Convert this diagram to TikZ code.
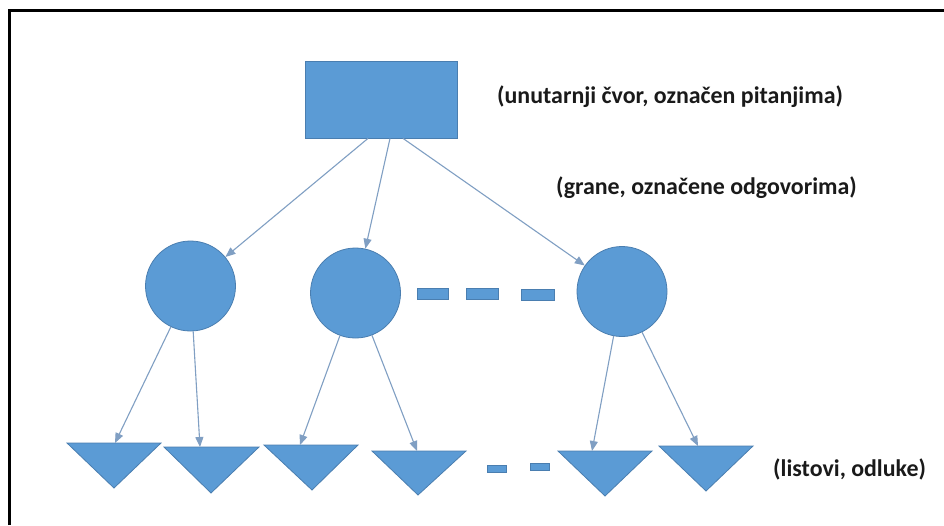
\documentclass[tikz,border=0pt]{standalone}
\usepackage{fontspec}
\setmainfont{Carlito}
\usetikzlibrary{arrows.meta,calc}
\definecolor{shapefill}{HTML}{5B9BD5}
\definecolor{shapeline}{HTML}{4A7EB0}
\definecolor{arrcol}{HTML}{809FC3}
\definecolor{txtcol}{HTML}{1A1A1A}
\tikzset{
  blob/.style={fill=shapefill, draw=shapeline, line width=0.8pt},
  ball/.style={blob, circle, minimum size=90pt, inner sep=0pt},
  box/.style={blob, rectangle, minimum width=152pt, minimum height=77pt, inner sep=0pt},
  arr/.style={draw=arrcol, line width=1.1pt, -{Triangle[length=10pt,width=8pt]}},
  lbl/.style={text=txtcol, font=\fontsize{23.9}{27}\selectfont\bfseries, inner sep=0pt, anchor=west},
  frame/.style={draw=black, line width=3pt}
}
\begin{document}
\begin{tikzpicture}[x=1pt,y=-1pt]
\useasboundingbox (0,0) rectangle (944,525);
\fill[white] (0,0) rectangle (944,525);
% frame (left and top only visible)
\draw[frame] (9.5,525) -- (9.5,10) -- (944,10);

% root
\node[box] (r) at (381,99.5) {};
% internal nodes
\node[ball] (c1) at (190.5,286) {};
\node[ball] (c2) at (355.5,293) {};
\node[ball] (c3) at (622,291.5) {};

% dashes between circles
\fill[blob] (417,288) rectangle (448,299);
\fill[blob] (466,288) rectangle (498,299);
\fill[blob] (521,289.5) rectangle (554,300.5);

% leaves (downward triangles)
\fill[blob] (67,443) -- (161,443) -- (114,488) -- cycle;
\fill[blob] (164,447) -- (259,447) -- (211,493) -- cycle;
\fill[blob] (264,445) -- (358,445) -- (312,490) -- cycle;
\fill[blob] (372,451) -- (466,451) -- (418,495) -- cycle;
\fill[blob] (558,451) -- (652,451) -- (605,496) -- cycle;
\fill[blob] (659,446) -- (753,446) -- (706,491) -- cycle;
% small dashes between leaves
\fill[blob] (487,465) rectangle (506,472);
\fill[blob] (530,463) rectangle (549,470);

% arrow tip coordinates on leaves
\coordinate (t1) at (115,443);
\coordinate (t2) at (200,447);
\coordinate (t3) at (300,445);
\coordinate (t4) at (417,451);
\coordinate (t5) at (592,451);
\coordinate (t6) at (698,446);

% edges
\draw[arr] ($(r.south)+(-13,0)$) -- (c1);
\draw[arr] ($(r.south)+(9,0)$) -- (c2);
\draw[arr] ($(r.south)+(22,0)$) -- (c3);

\draw[arr] (c1) -- (t1);
\draw[arr] (c1) -- (t2);
\draw[arr] (c2) -- (t3);
\draw[arr] (c2) -- (t4);
\draw[arr] (c3) -- (t5);
\draw[arr] (c3) -- (t6);

% labels
\node[lbl] (l1) at (497,97) {(unutarnji čvor, označen pitanjima)};
\node[lbl] (l2) at (556,187.5) {(grane, označene odgovorima)};
\node[lbl] (l3) at (773,469) {(listovi, odluke)};
\end{tikzpicture}
\end{document}
